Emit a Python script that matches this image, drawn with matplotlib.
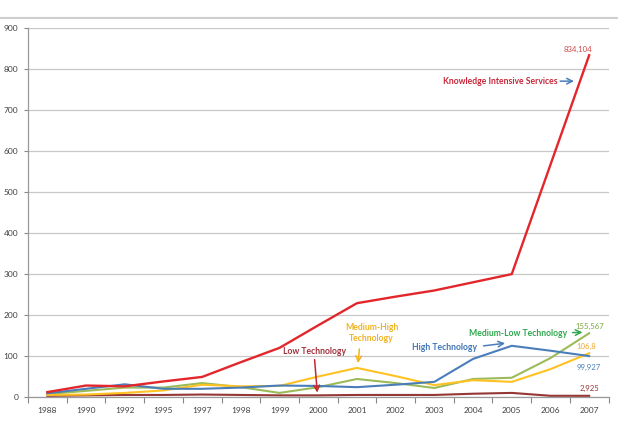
import matplotlib
matplotlib.use("Agg")
import matplotlib.pyplot as plt
from matplotlib.lines import Line2D
import numpy as np

years = ["1988", "1990", "1992", "1995", "1997", "1998", "1999", "2000",
         "2001", "2002", "2003", "2004", "2005", "2006", "2007"]
knowledge_intensive = [12, 28, 26, 38, 49, 85, 120, 175, 229, 245, 260, 280, 300, 567, 834.104]
high_tech = [9, 20, 31, 20, 20, 23, 28, 27, 24, 30, 37, 93, 125, 113, 99.927]
medium_high = [5, 6, 10, 16, 30, 26, 27, 50, 71, 51, 29, 41, 37, 68, 106.8]
medium_low = [7, 15, 23, 23, 34, 24, 10, 24, 44, 34, 22, 44, 47, 95, 155.567]
low_tech = [3, 4, 5, 5, 6, 5, 4, 4, 5, 5, 5, 8, 10, 3, 2.925]
yticks = list(range(0, 901, 100))

C_RED = "#E3262B"
C_BLUE = "#4A7EBB"
C_GREEN = "#9BBB59"
C_YEL = "#FFC222"
C_LOW = "#953735"

plt.rcParams['font.family'] = ['Lato', 'DejaVu Sans']

fig = plt.figure(figsize=(6.18, 4.23), dpi=100)
ax = fig.add_axes([28 / 618, 1 - 397 / 423, (608.5 - 28) / 618, (397 - 28.3) / 423])

x = np.arange(len(years))
ax.plot(x, low_tech, color=C_LOW, lw=1.5, zorder=3)
ax.plot(x, medium_low, color=C_GREEN, lw=1.5, zorder=3)
ax.plot(x, medium_high, color=C_YEL, lw=1.5, zorder=3)
ax.plot(x, high_tech, color=C_BLUE, lw=1.5, zorder=3)
ax.plot(x, knowledge_intensive, color=C_RED, lw=1.7, zorder=4)

ax.set_xlim(-0.5, len(years) - 0.5)
ax.set_ylim(0, 900)
ax.set_yticks(yticks)
ax.set_yticklabels([str(v) for v in yticks], fontsize=6, color="#404040")
ax.set_xticks(x)
ax.set_xticklabels(years, fontsize=6, color="#404040")
ax.set_xticks(np.arange(-0.5, len(years), 1.0), minor=True)
ax.tick_params(axis='x', which='major', length=0, pad=7)
ax.tick_params(axis='x', which='minor', length=4, color="#888888", width=0.8)
ax.tick_params(axis='y', length=3, color="#888888", width=0.8, pad=4)
ax.grid(axis='y', color="#C8C8C8", lw=0.9, zorder=0)
ax.set_axisbelow(True)
for s in ["top", "right"]:
    ax.spines[s].set_visible(False)
for s in ["left", "bottom"]:
    ax.spines[s].set_color("#999999")
    ax.spines[s].set_linewidth(0.9)

fig.add_artist(Line2D([0, 1], [1 - 18.3 / 423] * 2, color="#CFCFCF", lw=1.5,
                      transform=fig.transFigure))

fs = 5.6
afs = 6.2
# value labels
ax.text(13.71, 849, "834,104", color="#D04848", fontsize=fs, ha="center", va="center")
ax.text(14.02, 173, "155,567", color="#77A83C", fontsize=fs, ha="center", va="center")
ax.text(13.92, 124, "106,8", color="#F0A830", fontsize=fs, ha="center", va="center")
ax.text(14.0, 73, "99,927", color="#4A7EBB", fontsize=fs, ha="center", va="center")
ax.text(14.0, 22, "2,925", color="#953735", fontsize=fs, ha="center", va="center")

# series annotations
ax.text(10.22, 771, "Knowledge Intensive Services", color="#C8283A", fontsize=afs,
        fontweight="bold", ha="left", va="center")
ax.annotate("", xy=(13.68, 771), xytext=(13.18, 771),
            arrowprops=dict(arrowstyle="->", color=C_BLUE, lw=1.1))

ax.text(8.38, 156, "Medium-High\nTechnology", color="#F0B323", fontsize=afs,
        fontweight="bold", ha="center", va="center", linespacing=1.25)
ax.annotate("", xy=(8.02, 76), xytext=(8.07, 124),
            arrowprops=dict(arrowstyle="->", color="#F0B323", lw=1.1))

ax.text(6.91, 110, "Low Technology", color="#A0303A", fontsize=afs,
        fontweight="bold", ha="center", va="center")
ax.annotate("", xy=(6.98, 4), xytext=(6.9, 98),
            arrowprops=dict(arrowstyle="->", color="#C0282E", lw=1.1))

ax.text(10.27, 122, "High Technology", color="#3E74B8", fontsize=afs,
        fontweight="bold", ha="center", va="center")
ax.annotate("", xy=(11.9, 132), xytext=(11.2, 124),
            arrowprops=dict(arrowstyle="->", color=C_BLUE, lw=1.1))

ax.text(12.16, 156, "Medium-Low Technology", color="#2EA84E", fontsize=afs,
        fontweight="bold", ha="center", va="center")
ax.annotate("", xy=(13.9, 158), xytext=(13.5, 157),
            arrowprops=dict(arrowstyle="->", color="#2EA84E", lw=1.1))

fig.savefig("out.png", dpi=100, facecolor="white")
